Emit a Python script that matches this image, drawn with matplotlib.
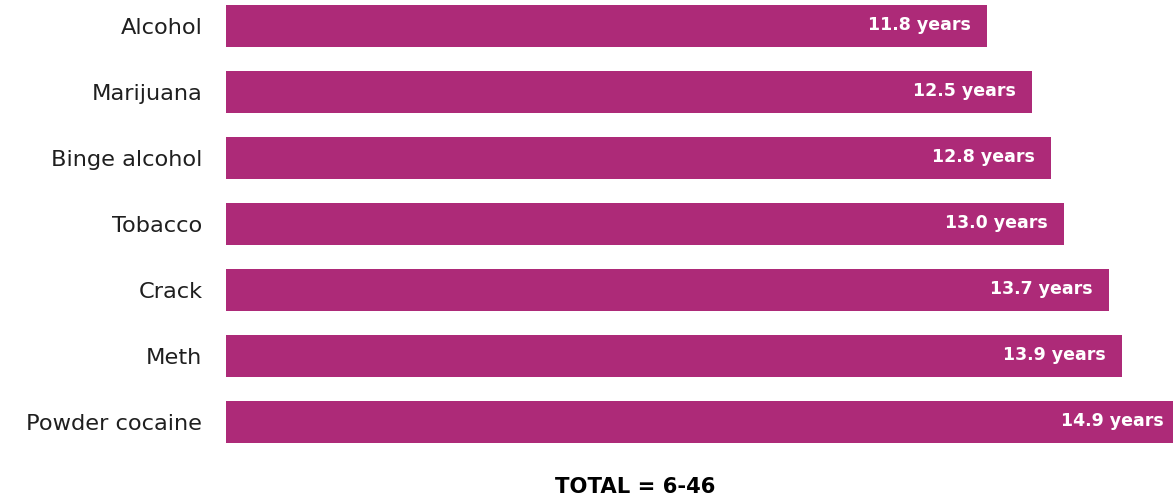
import matplotlib
matplotlib.use("Agg")
import matplotlib.pyplot as plt

# Average age of first use, by substance
substances = ["Alcohol", "Marijuana", "Binge alcohol", "Tobacco", "Crack", "Meth", "Powder cocaine"]
ages = [11.8, 12.5, 12.8, 13.0, 13.7, 13.9, 14.9]
total_note = "TOTAL = 6-46"

BAR_COLOR = "#AD2A78"
FONT = ["DejaVu Sans"]
X_MAX = 14.69

W, H = 1173, 501
fig = plt.figure(figsize=(W / 100, H / 100), dpi=100)
fig.patch.set_facecolor("white")

top_px, bot_px = 2.9, 461.6
ax = fig.add_axes([226 / W, 1 - bot_px / H, 1 - 226 / W, (bot_px - top_px) / H])

y = list(range(len(substances)))
ax.barh(y, ages, height=0.64, color=BAR_COLOR)
ax.set_xlim(0, X_MAX)
ax.set_ylim(6.6, -0.35)

# value labels sit just inside the bar end (kept inside the frame for clipped bars)
for yi, v in zip(y, ages):
    ax.text(min(v - 0.25, X_MAX - 0.14), yi - 0.02, f"{v:.1f} years", ha="right", va="center",
            color="white", fontsize=12.5, fontweight="bold", family=FONT)

ax.set_yticks(y)
ax.set_yticklabels(substances, fontsize=16.2, family=FONT, color="#1f1f1f")
ax.tick_params(axis="y", length=0, pad=17)
ax.set_xticks([])
for s in ax.spines.values():
    s.set_visible(False)

fig.text(635 / W, 1 - 487 / H, total_note, ha="center", va="center",
         fontsize=15.2, fontweight="bold", family=FONT, color="black")

fig.savefig("out.png", dpi=100)
